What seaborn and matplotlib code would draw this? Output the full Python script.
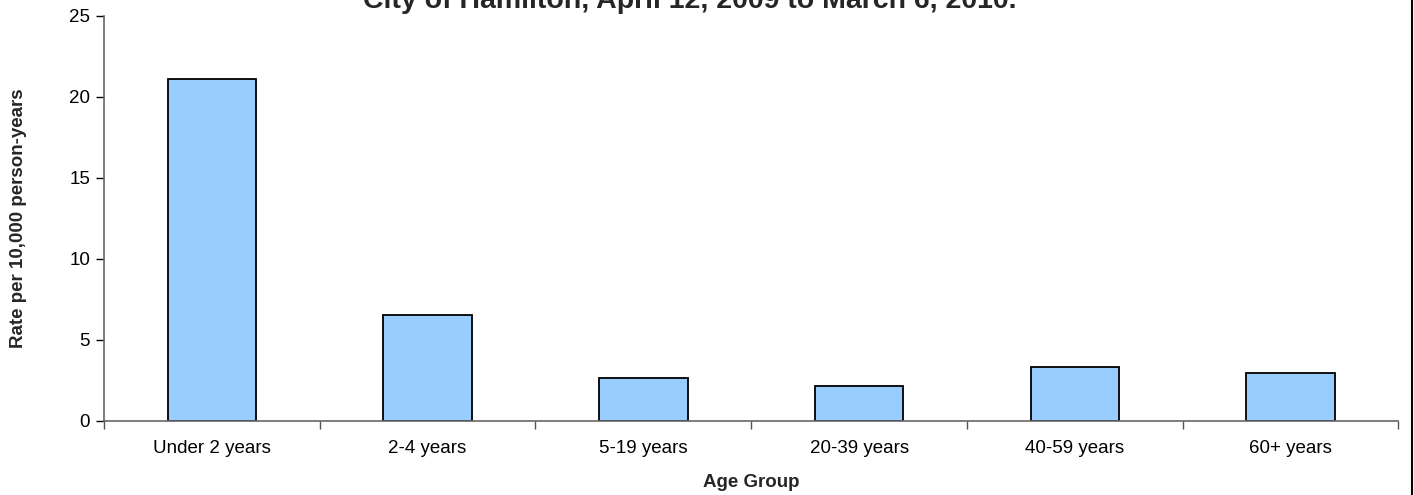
import numpy as np
import pandas as pd
import seaborn as sns
import matplotlib.pyplot as plt
from matplotlib.lines import Line2D

age_groups = ["Under 2 years", "2-4 years", "5-19 years", "20-39 years", "40-59 years", "60+ years"]
rates = [21.1, 6.55, 2.65, 2.15, 3.35, 2.95]

sns.set_style("white")
plt.rcParams["font.family"] = ["Liberation Sans", "DejaVu Sans"]

df = pd.DataFrame({"Age Group": age_groups, "Rate": rates})

fig = plt.figure(figsize=(14.14, 4.95), dpi=100)
ax = fig.add_axes([0.0735, 0.1495, 0.9155, 0.8182])

sns.barplot(data=df, x="Age Group", y="Rate", ax=ax, color="#99CCFF", saturation=1,
            edgecolor="black", linewidth=1.3, width=0.41)

ax.set_xlim(-0.5, len(age_groups) - 0.5)
ax.set_ylim(0, 25)
ax.set_yticks([0, 5, 10, 15, 20, 25])

# category boundary ticks like Excel
ax.set_xticks(np.arange(-0.5, len(age_groups)), minor=True)
ax.tick_params(axis="x", which="major", length=0, labelsize=13.5, pad=14, colors="black")
ax.tick_params(axis="x", which="minor", length=6, width=1, color="#555555", direction="out", bottom=True)
ax.tick_params(axis="y", length=6, width=1, color="#555555", direction="out", left=True,
               labelsize=13.5, pad=4, colors="black")
ax.tick_params(axis="y", colors="black")

for s in ["top", "right"]:
    ax.spines[s].set_visible(False)
for s in ["left", "bottom"]:
    ax.spines[s].set_color("#666666")
    ax.spines[s].set_linewidth(1.2)

ax.set_xlabel("Age Group", fontsize=13.5, fontweight="bold", labelpad=12)
ax.set_ylabel("Rate per 10,000 person-years", fontsize=13.5, fontweight="bold", labelpad=30)

# first title line sits above the page in the original, only this line shows
fig.text(690 / 1414, 1 - 8 / 495, "City of Hamilton, April 12, 2009 to March 6, 2010.",
         ha="center", va="baseline", fontsize=20.5, fontweight="bold")

fig.add_artist(Line2D([0.9985, 0.9985], [0, 1], transform=fig.transFigure, color="black", linewidth=1.5))

fig.savefig("out.png", dpi=100)
plt.close()
